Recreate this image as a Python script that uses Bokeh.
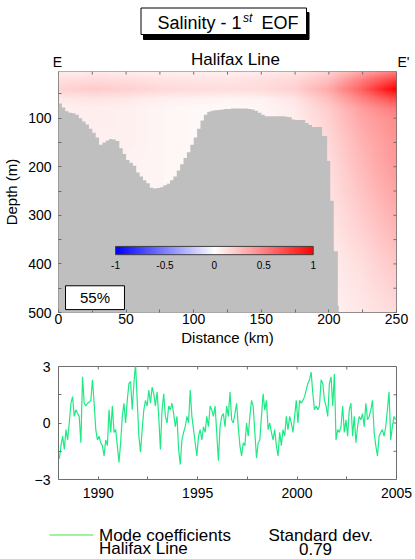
import numpy as np
from bokeh.plotting import figure
from bokeh.models import Range1d, FixedTicker, LinearColorMapper
from bokeh.layouts import column
from bokeh.core.properties import value
from bokeh.embed import file_html
from bokeh.resources import INLINE

FONT = "Liberation Sans"

# ---------------- data ----------------
title_main = "Salinity - 1"
title_sup = "st"
title_end = "EOF"
section_name = "Halifax Line"
left_end = "E"
right_end = "E'"
explained = "55%"
std_dev = "0.79"
series_name = "Mode coefficients"
std_name = "Standard dev."

field_dist = [0, 25, 50, 75, 100, 125, 150, 175, 200, 225, 250]
field_depth = [0, 20, 40, 60, 80, 100, 150, 200, 300, 400, 500]
field_vals = [
    [0.06, 0.06, 0.06, 0.05, 0.05, 0.05, 0.06, 0.08, 0.15, 0.30, 0.45],
    [0.12, 0.14, 0.13, 0.11, 0.10, 0.10, 0.12, 0.15, 0.25, 0.50, 0.75],
    [0.17, 0.20, 0.18, 0.15, 0.14, 0.13, 0.14, 0.18, 0.33, 0.62, 1.00],
    [0.09, 0.10, 0.09, 0.06, 0.05, 0.04, 0.05, 0.10, 0.25, 0.48, 0.70],
    [0.06, 0.07, 0.06, 0.04, 0.03, 0.03, 0.04, 0.08, 0.20, 0.38, 0.52],
    [0.05, 0.07, 0.06, 0.04, 0.03, 0.03, 0.04, 0.07, 0.18, 0.35, 0.45],
    [0.05, 0.06, 0.06, 0.04, 0.03, 0.03, 0.04, 0.06, 0.15, 0.30, 0.42],
    [0.05, 0.05, 0.05, 0.04, 0.03, 0.03, 0.04, 0.05, 0.13, 0.27, 0.40],
    [0.05, 0.05, 0.05, 0.04, 0.03, 0.03, 0.03, 0.05, 0.10, 0.20, 0.31],
    [0.05, 0.05, 0.05, 0.04, 0.03, 0.03, 0.03, 0.04, 0.07, 0.13, 0.22],
    [0.05, 0.05, 0.05, 0.04, 0.03, 0.03, 0.03, 0.03, 0.05, 0.09, 0.14],
]

bathy_left = [0, 2.5, 5, 7.5, 10, 12.5, 15, 17.5, 20, 22.5, 25, 27.5, 30, 32.5, 35, 37.5,
              40, 42.5, 45, 47.5, 50, 52.5, 55, 57.5, 60, 62.5, 65, 67.5, 70, 72.5, 75,
              77.5, 80, 82.5, 85, 87.5, 90, 92.5, 95, 97.5, 100, 102.5, 105, 107.5, 110,
              112.5, 115, 117.5, 120, 122.5, 125, 127.5, 130, 132.5, 135, 137.5, 140,
              142.5, 145, 147.5, 150, 152.5, 155, 157.5, 160, 162.5, 165, 167.5, 170,
              172.5, 175, 177.5, 180, 182.5, 185, 187.5, 190, 192.5, 195, 198.7, 201,
              203.6, 206.6]
bathy_depth = [70, 78, 86, 89, 90, 93, 100, 107, 113, 122, 130, 140, 155, 150, 146, 143,
               144, 147, 162, 174, 186, 192, 198, 212, 220, 228, 234, 243, 245, 244, 242,
               238, 235, 228, 220, 208, 195, 182, 170, 155, 140, 122, 105, 93, 87,
               85, 84, 83, 82, 81, 81, 80, 80, 80, 80, 80, 81,
               82, 85, 89, 93, 96, 96, 96, 96, 96, 96, 97, 98,
               103, 104, 104, 104, 110, 114, 118, 118, 118, 137, 188, 270,
               374, 486]
bathy_end = 207.3

cbar_ticks = [-1, -0.5, 0, 0.5, 1]
cbar_labels = ["-1", "-0.5", "0", "0.5", "1"]

dist_ticks = [0, 50, 100, 150, 200, 250]
dist_minor = [25, 75, 125, 175, 225]
depth_ticks = [100, 200, 300, 400, 500]
depth_minor = [50, 150, 250, 350, 450]
year_ticks = [1990, 1995, 2000, 2005]
year_minor = [1992.5, 1997.5, 2002.5]
coef_ticks = [-3, 0, 3]
coef_minor = [-1.5, 1.5]

ts_start = 1988.0
ts_values = [
    -1.9, -1.2, -0.7, -1.4, -0.35, -0.9, 0, 1.05, 1.4, 0.35, 0.7, 0.5,
    0.35, -1.05, 2.45, 1.05, 0.9, 1.05, 1.1, 1.2, 2.3, 1.05, -0.35, -0.9,
    -0.7, -1.05, -1.2, -1.75, -0.9, -1.2, 0.7, -0.5, 0.9, -0.5, -0.35, -1.2,
    -2.1, -1.05, 0.35, 1.05, 0, 1.2, 2.1, 2.2, 0.7, 2.1, 3.15, 1.2,
    -0.7, -1.55, -0.35, 0.7, 1.2, 0.9, 1.75, 1.05, 1.9, 1.55, 0.9, 1.65,
    0.35, -1.4, 0.7, 1.55, 0.35, 0, 0.9, 0.7, 1.05, 0.5, -0.2, 0.35,
    -1.4, -2.2, -0.9, -0.5, -0.2, 0.35, 0, 1.75, 0.35, -0.35, -1.05, -1.75,
    -0.7, -0.35, -0.9, -0.2, -0.5, 0.35, -0.2, 0.9, 0.7, 0.35, 0.9, -0.5,
    -2.0, -0.2, 0.35, 0.5, -0.2, 0.9, 0.35, 1.65, 0.17, 0, 0.5, 1.05,
    -0.2, -1.2, -1.75, -1.05, -1.2, 0, -0.7, 0.35, 1.2, 0.9, -0.5, -1.85,
    -1.05, -0.9, 0.35, 1.55, 0.7, 1.2, -0.35, 0, -0.5, -0.9, -0.35, -1.2,
    -1.75, -0.5, -1.2, -0.35, -0.7, 0.35, -0.35, 0.35, 0, -0.5, 0.35, 1.2,
    0, 1.2, 1.05, 1.2, 1.4, 1.75, 2.1, 2.3, 2.7, 1.55, 0.7, 0.9,
    0.7, 0.9, 2.3, 2.1, 1.2, 0.9, 0.35, 2.1, 2.45, 0.9, 2.6, -0.9,
    -0.35, -0.5, -0.2, 0.9, -0.5, 0.17, -0.7, 0.7, 1.05, -0.7, 0.35, -1.05,
    -0.2, 0.35, 0.17, 0.5, -0.2, 1.05, 0.17, 0.35, 0.7, 1.2, -0.5, -1.2,
    -1.75, -0.7, -0.5, -0.35, -0.7, -0.2, 0.7, 1.65, -0.9, -0.2, 0.35, 0.17,
]

# ---------------- styles ----------------
FRAME = "#6e6e6e"
GREY = "#bfbfbf"
LINE_GREEN = "#1fe985"
KEY_GREEN = "#80ee80"
W = 415
LEFT = 58
FRAME_W = 338


def bwr_palette(n=256):
    cols = []
    for i in range(n):
        v = -1 + 2 * i / (n - 1)
        if v < 0:
            c = int(round(255 * (1 + v)))
            cols.append("#%02x%02x%02x" % (c, c, 255))
        else:
            c = int(round(255 * (1 - v)))
            cols.append("#%02x%02x%02x" % (255, c, c))
    return cols


mapper = LinearColorMapper(palette=bwr_palette(), low=-1, high=1)


def style_axis(ax, size="14px"):
    ax.axis_line_color = None
    ax.major_tick_in = 3
    ax.major_tick_out = 0
    ax.minor_tick_in = 3
    ax.minor_tick_out = 0
    ax.major_tick_line_color = FRAME
    ax.minor_tick_line_color = FRAME
    ax.major_label_text_font = FONT
    ax.major_label_text_color = "black"
    ax.major_label_text_font_size = size
    ax.axis_label_text_font = FONT
    ax.axis_label_text_font_style = "normal"
    ax.axis_label_text_color = "black"
    ax.axis_label_text_font_size = "15px"


def blank_fig(h):
    f = figure(width=W, height=h, x_range=Range1d(0, W), y_range=Range1d(h, 0),
               x_axis_type=None, y_axis_type=None, output_backend="svg",
               toolbar_location=None, min_border=0, frame_align=False)
    f.outline_line_color = None
    return f


def txt(f, x, baseline, s, size, align="left", style="normal"):
    # text placed by its baseline (pixels from the top of the strip)
    mid = baseline - 0.3465 * size
    f.text(x=[x], y=[mid], text=[s], text_font=value(FONT), text_font_size="%dpx" % size,
           text_font_style=style, text_align=align, text_baseline="middle", text_color="black")


# ---------------- header strip (page y 0..70) ----------------
ft = blank_fig(70)
ft.quad(left=143, right=308.5, top=12, bottom=39, fill_color="black", line_color="black")
ft.quad(left=140.5, right=306, top=7.5, bottom=34, fill_color="white", line_color="black", line_width=1)
txt(ft, 157, 28.3, title_main, 18)
txt(ft, 242.5, 21.5, title_sup, 12, style="italic")
txt(ft, 261, 28.3, title_end, 18)
txt(ft, 235, 65, section_name, 17, align="center")
txt(ft, 57, 66.5, left_end, 14, align="center")
txt(ft, 397, 66.5, right_end, 14)

# ---------------- section figure (page y 70..360) ----------------
fa = figure(width=W, height=290, x_range=Range1d(0, 250), y_range=Range1d(500, 4),
            output_backend="svg", toolbar_location=None, frame_align=False,
            min_border_left=LEFT, min_border_right=W - LEFT - FRAME_W,
            min_border_top=1, min_border_bottom=48)
fa.xgrid.visible = False
fa.ygrid.visible = False
fa.outline_line_color = FRAME

dist_f = np.linspace(0, 250, 251)
depth_f = np.linspace(0, 500, 501)
vals = np.array(field_vals, dtype=float)
rows = np.array([np.interp(dist_f, field_dist, r) for r in vals])
img = np.array([np.interp(depth_f, field_depth, rows[:, j]) for j in range(len(dist_f))]).T
fa.image(image=[img], x=0, y=0, dw=250, dh=500, color_mapper=mapper)

# bathymetry as one stepped polygon
right_edges = bathy_left[1:] + [bathy_end]
bx, by = [0], [505]
for l, r, d in zip(bathy_left, right_edges, bathy_depth):
    bx += [l, r]
    by += [d, d]
bx += [bathy_end]
by += [505]
fa.patch(x=bx, y=by, fill_color=GREY, line_color=None)

# colour bar
cb_left, cb_w, cb_top, cb_h = 42.2, 146.2, 364, 17
grad = np.linspace(-1, 1, 256).reshape(1, 256)
fa.image(image=[grad], x=cb_left, y=cb_top, dw=cb_w, dh=cb_h, color_mapper=mapper)
fa.quad(left=cb_left, right=cb_left + cb_w, top=cb_top, bottom=cb_top + cb_h,
        fill_color=None, line_color="#404040", line_width=1)
cb_x = [cb_left + (t + 1) / 2 * cb_w for t in cbar_ticks]
fa.text(x=cb_x, y=[402] * len(cb_x), text=cbar_labels, text_font=value(FONT),
        text_font_size="10px", text_align="center", text_baseline="middle", text_color="black")

# explained variance box
fa.quad(left=5.2, right=48.8, top=445, bottom=494, fill_color="white", line_color="black", line_width=1)
fa.text(x=[27], y=[470], text=[explained], text_font=value(FONT), text_font_size="15px",
        text_align="center", text_baseline="middle", text_color="black")

fa.xaxis[0].ticker = FixedTicker(ticks=dist_ticks, minor_ticks=dist_minor)
fa.yaxis[0].ticker = FixedTicker(ticks=depth_ticks, minor_ticks=depth_minor)
style_axis(fa.xaxis[0])
style_axis(fa.yaxis[0])
fa.xaxis[0].axis_label = "Distance (km)"
fa.yaxis[0].axis_label = "Depth (m)"
fa.xaxis[0].major_label_standoff = 1
fa.xaxis[0].axis_label_standoff = 2
fa.yaxis[0].major_label_standoff = 7
fa.yaxis[0].axis_label_standoff = 5

# inward ticks on the top and right edges
px_x = 250 / FRAME_W
px_y = 496 / 241
top_t = dist_ticks + dist_minor
fa.segment(x0=top_t, x1=top_t, y0=[4] * len(top_t), y1=[4 + 3 * px_y] * len(top_t),
           line_color=FRAME, line_width=1)
right_t = depth_ticks + depth_minor
fa.segment(x0=[250] * len(right_t), x1=[250 - 3 * px_x] * len(right_t), y0=right_t, y1=right_t,
           line_color=FRAME, line_width=1)

# ---------------- time-series figure (page y 360..509) ----------------
fb = figure(width=W, height=149, x_range=Range1d(1988, 2005), y_range=Range1d(-3, 3),
            output_backend="svg", toolbar_location=None, frame_align=False,
            min_border_left=LEFT, min_border_right=W - LEFT - FRAME_W,
            min_border_top=6, min_border_bottom=30)
fb.xgrid.visible = False
fb.ygrid.visible = False
fb.outline_line_color = FRAME
times = ts_start + (np.arange(len(ts_values)) + 0.5) / 12.0
fb.line(x=times, y=ts_values, line_color=LINE_GREEN, line_width=1.2)
fb.xaxis[0].ticker = FixedTicker(ticks=year_ticks, minor_ticks=year_minor)
fb.yaxis[0].ticker = FixedTicker(ticks=coef_ticks, minor_ticks=coef_minor)
style_axis(fb.xaxis[0])
style_axis(fb.yaxis[0])
fb.xaxis[0].major_label_standoff = 8
fb.yaxis[0].major_label_standoff = 8
bx_px = 17 / FRAME_W
by_px = 6 / 113
tt = year_ticks + year_minor
fb.segment(x0=tt, x1=tt, y0=[3] * len(tt), y1=[3 - 3 * by_px] * len(tt),
           line_color=FRAME, line_width=1)
rt = coef_ticks + coef_minor
fb.segment(x0=[2005] * len(rt), x1=[2005 - 3 * bx_px] * len(rt), y0=rt, y1=rt,
           line_color=FRAME, line_width=1)

# ---------------- legend strip (page y 509..558) ----------------
fl = blank_fig(49)
fl.line(x=[49, 93], y=[25.5, 25.5], line_color=KEY_GREEN, line_width=1.5)
txt(fl, 98.5, 31.5, series_name, 17)
txt(fl, 98.5, 45, section_name, 17)
txt(fl, 268, 31.5, std_name, 17)
txt(fl, 315, 45, std_dev, 17, align="center")

p = column(ft, fa, fb, fl)
open("out.html", "w").write(file_html(p, INLINE))
